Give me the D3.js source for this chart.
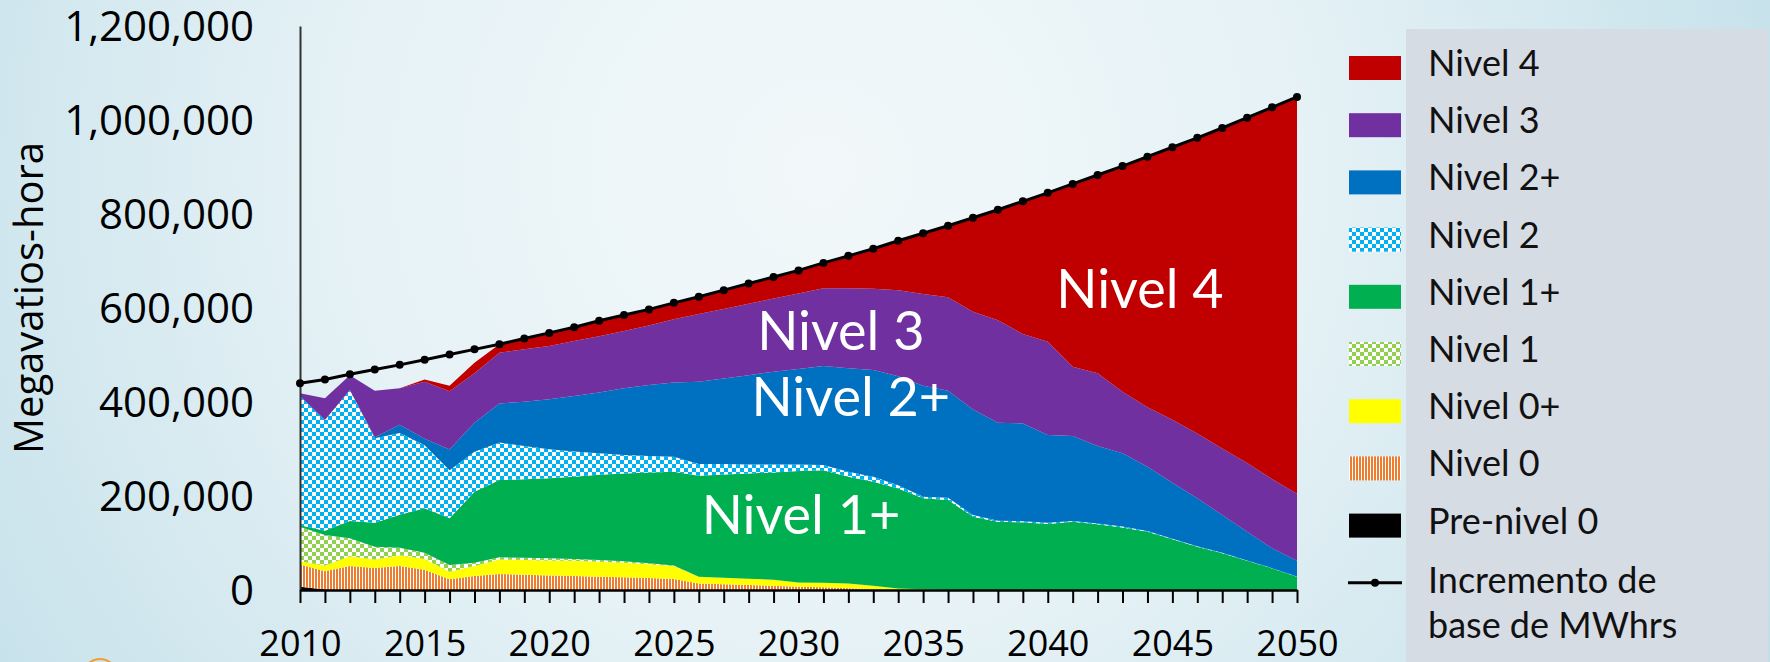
<!DOCTYPE html>
<html><head><meta charset="utf-8">
<script src="https://cdn.jsdelivr.net/npm/d3@7"></script>
<style>html,body{margin:0;padding:0;overflow:hidden;background:#e4f1f5}</style>
</head><body>
<svg id="chart" width="1770" height="662"></svg>
<script>
// ---------- DATA ----------
const years = [2010,2011,2012,2013,2014,2015,2016,2017,2018,2019,2020,2021,2022,2023,2024,2025,2026,2027,2028,2029,2030,2031,2032,2033,2034,2035,2036,2037,2038,2039,2040,2041,2042,2043,2044,2045,2046,2047,2048,2049,2050];
const preNivel0 = [7000,1000,0,0,0,0,0,0,0,0,0,0,0,0,0,0,0,0,0,0,0,0,0,0,0,0,0,0,0,0,0,0,0,0,0,0,0,0,0,0,0];
const nivel0 = [47000,39000,51000,47000,51000,43000,23000,30000,34000,32500,31000,30000,28400,27000,25500,23400,14000,12000,10600,9000,7000,5700,3500,1400,0,0,0,0,0,0,0,0,0,0,0,0,0,0,0,0,0];
const nivel0p = [7000,12000,21000,18000,23000,23000,16000,21000,31000,31500,32000,32000,31600,31000,29500,27600,14000,14000,13400,13000,9000,9900,10500,7600,3000,1400,500,0,0,0,0,0,0,0,0,0,0,0,0,0,0];
const nivel1 = [73800,65000,38000,27000,16000,13400,14000,7000,4500,4800,4400,4000,3800,3000,2000,1000,0,0,0,0,0,0,0,0,0,0,0,0,0,0,0,0,0,0,0,0,0,0,0,0,0];
const nivel1p = [3200,9000,37000,51000,70000,94600,99500,151000,164500,166700,170200,175000,181200,187000,193000,199800,215000,220000,224000,228000,237000,239400,227000,221500,213000,193600,191000,156000,145000,144000,140400,145000,139700,133000,124000,107800,92000,78000,62000,46000,28000];
const nivel2 = [274800,235700,278500,179700,174000,134000,102500,85000,79700,71100,61900,53500,46000,39000,35000,31900,25000,22000,19000,17000,14000,11000,10800,10500,7000,3600,4900,3600,2500,2500,2500,2000,2000,2000,1500,1500,1000,1000,1000,500,500];
const nivel2p = [0,0,0,2100,17800,14000,44000,62000,83300,94000,106500,118300,129000,142000,151000,158000,175000,182000,190000,197500,203000,210600,219800,227000,232000,236200,227600,224400,208500,208000,186900,180700,164700,155800,136900,119100,102000,80600,61000,42200,33500];
const nivel3 = [5700,46100,31500,99200,77200,121000,124000,105000,108000,111400,113000,117200,120000,122000,127000,134200,144000,148000,152000,155500,161000,165400,170400,173000,183000,195200,199000,208000,218000,190400,198200,147300,154600,131200,126600,133600,138000,141400,146000,147300,143000];
const nivel4 = [0,0,0,0,0,5000,11800,22700,18000,23000,28000,29000,33000,34000,34000,35000,37000,40000,43000,46000,49000,54000,69000,85000,105000,129000,152000,200000,235000,282000,317000,389000,422000,480000,533000,580000,629000,682000,735000,791000,844000];
const baseMWh = [440000,448000,459000,469000,479000,490000,501000,512000,523000,535000,547000,559000,573000,585000,597000,611000,624000,638000,652000,666000,680000,696000,711000,726000,743000,759000,775000,792000,809000,827000,845000,864000,883000,902000,922000,942000,962000,983000,1005000,1027000,1049000];
const yTicks = [0,200000,400000,600000,800000,1000000,1200000];
const xLabelYears = [2010,2015,2020,2025,2030,2035,2040,2045,2050];
const stackKeys = ["Pre-nivel 0","Nivel 0","Nivel 0+","Nivel 1","Nivel 1+","Nivel 2","Nivel 2+","Nivel 3","Nivel 4"];
const legendItems = ["Nivel 4","Nivel 3","Nivel 2+","Nivel 2","Nivel 1+","Nivel 1","Nivel 0+","Nivel 0","Pre-nivel 0"];
const lineLabel = ["Incremento de","base de MWhrs"];
const yTitle = "Megavatios-hora";
const areaLabels = [
  {text:"Nivel 4", year:2043.7, value:600000},
  {text:"Nivel 3", year:2031.7, value:510000},
  {text:"Nivel 2+", year:2032.1, value:370000},
  {text:"Nivel 1+", year:2030.1, value:120000}
];

// ---------- STYLE ----------
const fills = {
  "Pre-nivel 0":"#000000",
  "Nivel 0":"url(#stripeOrange)",
  "Nivel 0+":"#ffff00",
  "Nivel 1":"url(#checkGreen)",
  "Nivel 1+":"#00b050",
  "Nivel 2":"url(#checkBlue)",
  "Nivel 2+":"#0070c0",
  "Nivel 3":"#7030a0",
  "Nivel 4":"#c00000"
};

const svg = d3.select("#chart");
const defs = svg.append("defs");

// background
const bg = defs.append("radialGradient").attr("id","bgGrad")
  .attr("gradientUnits","userSpaceOnUse").attr("cx",820).attr("cy",170).attr("r",1050);
bg.append("stop").attr("offset","0").attr("stop-color","#f2f8fa");
bg.append("stop").attr("offset","0.45").attr("stop-color","#e6f2f6");
bg.append("stop").attr("offset","1").attr("stop-color","#c2dfe9");
svg.append("rect").attr("width",1770).attr("height",662).attr("fill","url(#bgGrad)");

function checker(id, color){
  const p = defs.append("pattern").attr("id",id).attr("patternUnits","userSpaceOnUse")
    .attr("width",8).attr("height",8);
  p.append("rect").attr("width",8).attr("height",8).attr("fill","#ffffff");
  p.append("rect").attr("width",4).attr("height",4).attr("fill",color);
  p.append("rect").attr("x",4).attr("y",4).attr("width",4).attr("height",4).attr("fill",color);
}
checker("checkBlue","#00b0f0");
checker("checkGreen","#92d050");
const sp = defs.append("pattern").attr("id","stripeOrange").attr("patternUnits","userSpaceOnUse")
  .attr("width",3).attr("height",10);
sp.append("rect").attr("width",3).attr("height",10).attr("fill","#ffffff");
sp.append("rect").attr("width",2).attr("height",10).attr("fill","#ed7d31");

// ---------- SCALES ----------
const x = d3.scaleLinear().domain([2010,2050]).range([300,1297]);
const y = d3.scaleLinear().domain([0,1200000]).range([590,26]);

const table = years.map((yr,i)=>({
  year:yr,
  "Pre-nivel 0":preNivel0[i],"Nivel 0":nivel0[i],"Nivel 0+":nivel0p[i],
  "Nivel 1":nivel1[i],"Nivel 1+":nivel1p[i],"Nivel 2":nivel2[i],
  "Nivel 2+":nivel2p[i],"Nivel 3":nivel3[i],"Nivel 4":nivel4[i]
}));
const stacked = d3.stack().keys(stackKeys)(table);
const area = d3.area().x(d=>x(d.data.year)).y0(d=>y(d[0])).y1(d=>y(d[1]));

svg.append("g").selectAll("path").data(stacked).join("path")
  .attr("d",area).attr("fill",d=>fills[d.key]);

// ---------- AXES ----------
const yAxis = svg.append("g").attr("transform","translate(300,0)")
  .call(d3.axisLeft(y).tickValues(yTicks).tickSize(0).tickPadding(46).tickFormat(d3.format(",")));
yAxis.select(".domain").attr("stroke","#333").attr("stroke-width",2);
yAxis.selectAll("text").attr("font-family","'Open Sans', sans-serif").attr("font-size",42)
  .attr("fill","#000").attr("dy","0.35em");

const xAxis = svg.append("g").attr("transform","translate(0,590)")
  .call(d3.axisBottom(x).tickValues(years).tickSize(13).tickSizeOuter(0).tickPadding(27)
    .tickFormat(d => xLabelYears.includes(d) ? String(d) : ""));
xAxis.select(".domain").attr("stroke","#000").attr("stroke-width",2.5);
xAxis.selectAll(".tick line").attr("stroke","#000").attr("stroke-width",2);
xAxis.selectAll("text").attr("font-family","'Open Sans', sans-serif").attr("font-size",36).attr("fill","#000");

svg.append("text").attr("transform","translate(43,298) rotate(-90)")
  .attr("text-anchor","middle").attr("font-family","'Open Sans', sans-serif")
  .attr("font-size",40).attr("fill","#000").text(yTitle);

// ---------- LINE ----------
const line = d3.line().x((d,i)=>x(years[i])).y(d=>y(d));
svg.append("path").datum(baseMWh).attr("d",line).attr("fill","none")
  .attr("stroke","#000").attr("stroke-width",3);
svg.append("g").selectAll("circle").data(baseMWh).join("circle")
  .attr("cx",(d,i)=>x(years[i])).attr("cy",d=>y(d)).attr("r",4).attr("fill","#000");

// ---------- AREA LABELS ----------
svg.append("g").selectAll("text").data(areaLabels).join("text")
  .attr("x",d=>x(d.year)).attr("y",d=>y(d.value))
  .attr("text-anchor","middle").attr("font-family","Lato, sans-serif")
  .attr("font-size",54).attr("fill","#fff").text(d=>d.text);

// ---------- LEGEND ----------
svg.append("rect").attr("x",1406).attr("y",29).attr("width",362).attr("height",640).attr("fill","#d6dce4");
const lg = svg.append("g");
const rowY = i => 68 + i*57.2;
lg.selectAll("rect.sw").data(legendItems).join("rect").attr("class","sw")
  .attr("x",1349).attr("y",(d,i)=>rowY(i)-12).attr("width",52).attr("height",24)
  .attr("fill",d=>fills[d]);
lg.selectAll("text.lt").data(legendItems).join("text").attr("class","lt")
  .attr("x",1428).attr("y",(d,i)=>rowY(i)+8)
  .attr("font-family","Lato, sans-serif").attr("font-size",36).attr("fill","#111").text(d=>d);
const ly = rowY(9);
lg.append("line").attr("x1",1348).attr("x2",1402).attr("y1",ly).attr("y2",ly)
  .attr("stroke","#000").attr("stroke-width",3);
lg.append("circle").attr("cx",1375).attr("cy",ly).attr("r",4).attr("fill","#000");
lg.selectAll("text.ll").data(lineLabel).join("text").attr("class","ll")
  .attr("x",1428).attr("y",(d,i)=>ly+10+i*45)
  .attr("font-family","Lato, sans-serif").attr("font-size",36).attr("fill","#111").text(d=>d);

// decorative logo arc at bottom-left
svg.append("circle").attr("cx",100).attr("cy",676).attr("r",17).attr("fill","none")
  .attr("stroke","#f0a030").attr("stroke-width",2);
</script>
</body></html>
